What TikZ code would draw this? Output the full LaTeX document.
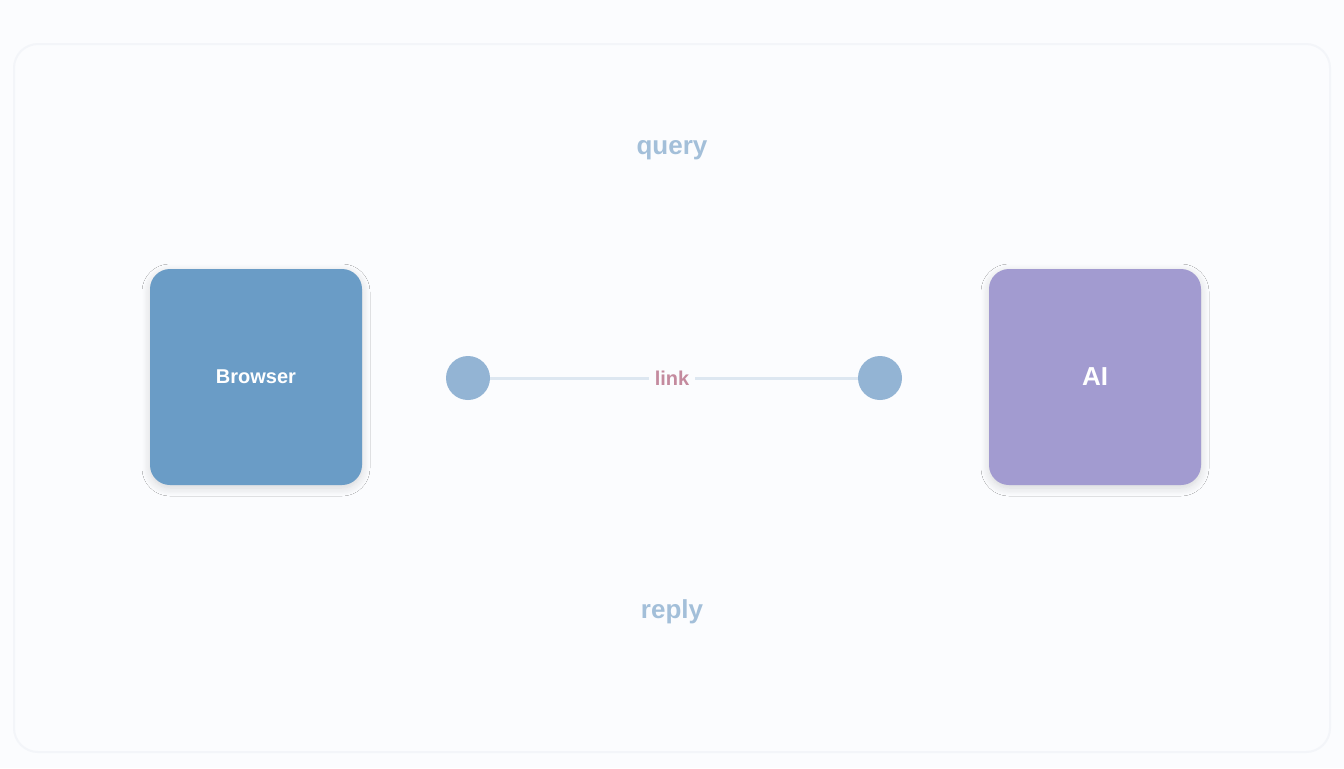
\documentclass[tikz,border=0pt]{standalone}
\usepackage{fontspec}
\setmainfont{Liberation Sans}
\usetikzlibrary{shadows.blur}
\definecolor{bgc}{HTML}{FBFCFE}
\definecolor{framec}{HTML}{F3F5F9}
\definecolor{leftc}{HTML}{6A9CC6}
\definecolor{rightc}{HTML}{A29BD0}
\definecolor{dotc}{HTML}{93B4D4}
\definecolor{linec}{HTML}{DDE7F1}
\definecolor{midc}{HTML}{C48A9E}
\definecolor{lblc}{HTML}{A3BFD9}
\tikzset{
  x=0.5pt,y=-0.5pt,
  bigbox/.style={rounded corners=10pt,minimum width=106pt,minimum height=108pt,
    text=white,font=\fontsize{10}{12}\selectfont\bfseries,
    blur shadow={shadow blur steps=10,shadow xshift=0pt,shadow yshift=-1.5pt,shadow opacity=15,shadow blur radius=4pt}},
  dotnode/.style={circle,fill=dotc,minimum size=22pt,inner sep=0pt},
  sidelbl/.style={text=lblc,font=\fontsize{13}{15}\selectfont\bfseries},
  midlbl/.style={text=midc,font=\fontsize{10}{12}\selectfont\bfseries,fill=bgc,inner sep=3pt},
  conn/.style={draw=linec,line width=1.5pt}
}
\begin{document}
\begin{tikzpicture}
\fill[bgc] (0,0) rectangle (1344,768);
\useasboundingbox (0,0) rectangle (1344,768);
\draw[framec,line width=1pt,rounded corners=12pt] (14,44) rectangle (1330,752);
\node[bigbox,fill=leftc] (src) at (256,377) {Browser};
\node[bigbox,fill=rightc,font=\fontsize{13}{15}\selectfont\bfseries] (dst) at (1095,377) {AI};
\node[dotnode] (d1) at (468,378) {};
\node[dotnode] (d2) at (880,378) {};
\draw[conn] (d1) -- (d2);
\node[midlbl] (mid) at (672,378) {link};
\node[sidelbl] (top) at (672,150) {query};
\node[sidelbl] (bot) at (672,612) {reply};
\end{tikzpicture}
\end{document}
